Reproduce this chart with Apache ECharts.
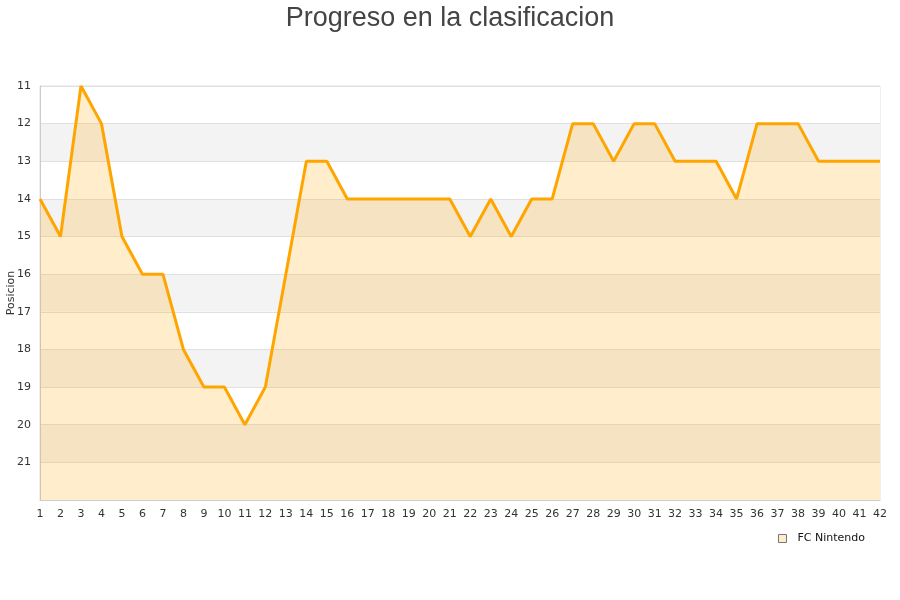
<!DOCTYPE html>
<html><head><meta charset="utf-8">
<script src="https://cdn.jsdelivr.net/npm/echarts@6/dist/echarts.min.js"></script>
<style>html,body{margin:0;padding:0;background:#fff}#c{width:900px;height:600px}</style>
</head><body><div id="c"></div>
<script>
const jornadas = [1,2,3,4,5,6,7,8,9,10,11,12,13,14,15,16,17,18,19,20,21,22,23,24,25,26,27,28,29,30,31,32,33,34,35,36,37,38,39,40,41,42];
const posiciones = [14,15,11,12,15,16,16,18,19,19,20,19,16,13,13,14,14,14,14,14,14,15,14,15,14,14,12,12,13,12,12,13,13,13,14,12,12,12,13,13,13,13];
const yTicks = [11,12,13,14,15,16,17,18,19,20,21];
const seriesName = 'FC Nintendo';

const chart = echarts.init(document.getElementById('c'), null, {renderer:'canvas'});
chart.setOption({
  animation: false,
  title: {text: 'Progreso en la clasificacion', left: 'center', top: 0,
    textStyle: {fontFamily: 'Liberation Sans, Arial', fontSize: 27, fontWeight: 'normal', color: '#444'}},
  grid: {left: 40, right: 20, top: 86, bottom: 100, show: true, borderColor: '#e0e0e0', borderWidth: 1,
    containLabel: false, outerBoundsMode: 'none'},
  legend: {right: 30, top: 528, itemWidth: 8, itemHeight: 8, icon: 'rect', itemGap: 10,
    textStyle: {fontFamily: 'DejaVu Sans', fontSize: 11, color: '#111', padding: [0, 0, 0, 6]},
    data: [{name: seriesName, itemStyle: {color: '#ffeccc', borderColor: '#777', borderWidth: 1}}]},
  xAxis: {type: 'category', data: jornadas, boundaryGap: false,
    axisLine: {lineStyle: {color: '#ccc'}}, axisTick: {show: false},
    axisLabel: {fontFamily: 'DejaVu Sans', fontSize: 11, color: '#333', margin: 9, interval: 0},
    splitLine: {show: false}},
  yAxis: {type: 'value', inverse: true, min: 11, max: 22, interval: 1,
    name: 'Posicion', nameLocation: 'middle', nameGap: 23, nameMoveOverlap: false,
    nameTextStyle: {fontFamily: 'DejaVu Sans', fontSize: 11, color: '#333'},
    axisLine: {show: true, lineStyle: {color: '#ccc'}}, axisTick: {show: false},
    axisLabel: {fontFamily: 'DejaVu Sans', fontSize: 11, color: '#333', margin: 9,
      formatter: v => yTicks.includes(v) ? String(v) : ''},
    splitLine: {show: true, lineStyle: {color: '#e0e0e0'}},
    splitArea: {show: true, areaStyle: {color: ['#ffffff', '#f3f3f3']}}},
  series: [{name: seriesName, type: 'line', data: posiciones, symbol: 'none',
    lineStyle: {color: '#ffa500', width: 3}, itemStyle: {color: '#ffa500'},
    areaStyle: {color: 'rgba(255,165,0,0.2)', opacity: 1, origin: 'end'}}]
});
</script></body></html>
